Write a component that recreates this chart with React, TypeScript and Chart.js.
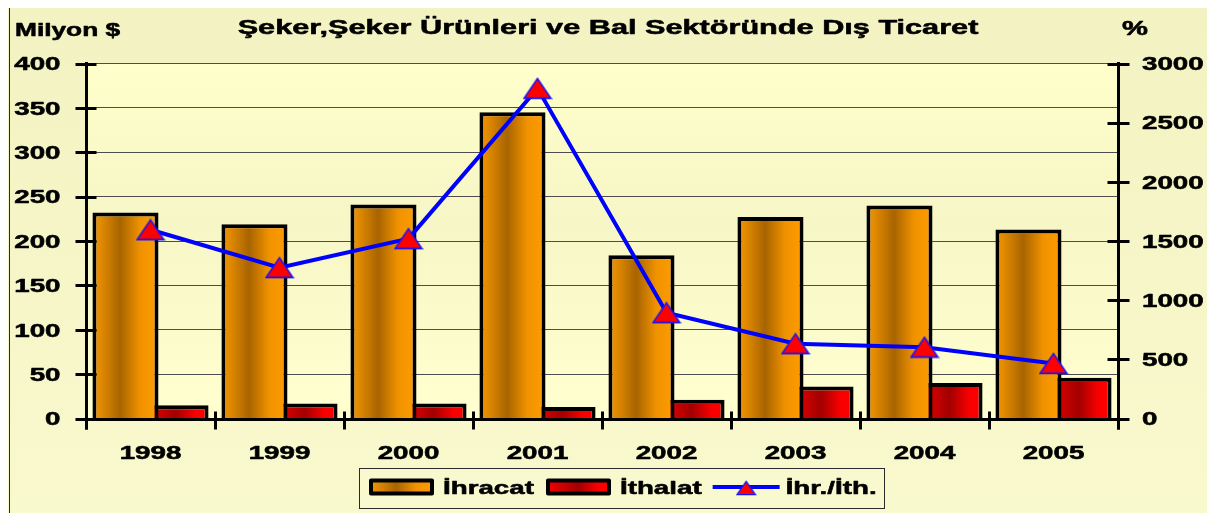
import { useEffect, useRef } from 'react';
import { Chart, registerables } from 'chart.js';

Chart.register(...registerables);

// ---------- data ----------
const YEARS = ['1998', '1999', '2000', '2001', '2002', '2003', '2004', '2005'];
const IHRACAT = [232, 219, 241, 345, 184, 227, 240, 213];
const ITHALAT = [15, 17, 17, 13, 21, 36, 40, 46];
const ORAN = [1595, 1275, 1520, 2790, 894, 632, 603, 465];
const SERIES_LABELS = ['İhracat', 'İthalat', 'İhr./İth.'];
const LEFT_MAX = 400;
const LEFT_STEP = 50;
const RIGHT_MAX = 3000;
const RIGHT_STEP = 500;
const TITLE = 'Şeker,Şeker Ürünleri ve Bal Sektöründe Dış Ticaret';
const LEFT_UNIT = 'Milyon $';
const RIGHT_UNIT = '%';

// ---------- style ----------
const FONT = '"Liberation Sans", Arial, Helvetica, sans-serif';
const SX = 1.46; // horizontal text stretch seen in the reference
const CAT_PCT = 0.776;
const BAR_PCT = 1.32;

type Stop = [number, string];
const ORANGE_STOPS: Stop[] = [
  [0, '#F39400'],
  [0.12, '#E38B00'],
  [0.42, '#A86400'],
  [0.72, '#F09200'],
  [1, '#FF9C00'],
];
const RED_STOPS: Stop[] = [
  [0, '#F20000'],
  [0.15, '#DF0000'],
  [0.5, '#A20000'],
  [0.8, '#F80000'],
  [1, '#FF0000'],
];

function stretchedText(
  ctx: CanvasRenderingContext2D,
  text: string,
  x: number,
  y: number,
  size: number,
  align: CanvasTextAlign
) {
  ctx.save();
  ctx.font = `bold ${size}px ${FONT}`;
  ctx.textAlign = align;
  ctx.textBaseline = 'alphabetic';
  ctx.fillStyle = '#000';
  ctx.strokeStyle = '#000';
  ctx.lineWidth = 0.55;
  ctx.lineJoin = 'round';
  ctx.translate(x, y);
  ctx.scale(SX, 1);
  ctx.fillText(text, 0, 0);
  ctx.strokeText(text, 0, 0);
  ctx.restore();
}

function textWidth(ctx: CanvasRenderingContext2D, text: string, size: number) {
  ctx.save();
  ctx.font = `bold ${size}px ${FONT}`;
  const w = ctx.measureText(text).width * SX;
  ctx.restore();
  return w;
}

function makeTriangle(w: number, h: number, lw: number) {
  const c = document.createElement('canvas');
  c.width = w;
  c.height = h;
  const g = c.getContext('2d')!;
  g.beginPath();
  g.moveTo(w / 2, lw);
  g.lineTo(w - lw, h - lw);
  g.lineTo(lw, h - lw);
  g.closePath();
  g.fillStyle = '#FF0000';
  g.fill();
  g.lineWidth = lw;
  g.strokeStyle = '#1414FF';
  g.stroke();
  return c;
}

function gradientBetween(ctx: CanvasRenderingContext2D, x0: number, x1: number, stops: Stop[]) {
  const g = ctx.createLinearGradient(x0, 0, x1, 0);
  stops.forEach(([o, col]) => g.addColorStop(o, col));
  return g;
}

function barGradient(stops: Stop[], side: number) {
  return (c: any) => {
    const chart = c.chart;
    const xs = chart && chart.scales ? chart.scales.x : null;
    const fallback = stops[2][1];
    if (!xs || typeof c.dataIndex !== 'number') return fallback;
    const cw = xs.width / YEARS.length;
    const center = xs.getPixelForValue(c.dataIndex) + (side * cw * CAT_PCT) / 4;
    const half = ((cw * CAT_PCT) / 4) * BAR_PCT;
    if (!isFinite(center) || !isFinite(half) || half <= 0) return fallback;
    return gradientBetween(chart.ctx, center - half, center + half, stops);
  };
}

function makeDecor(smallTri: HTMLCanvasElement) {
  return {
    id: 'decor',
    beforeDraw(chart: any) {
      const { ctx, width, height, chartArea: a } = chart;
      if (!a) return;
      ctx.save();
      const bg = ctx.createLinearGradient(0, 0, 0, height);
      bg.addColorStop(0, '#F2F2C2');
      bg.addColorStop(1, '#F9F9CE');
      ctx.fillStyle = bg;
      ctx.fillRect(0, 0, width, height);
      const pg = ctx.createLinearGradient(0, a.top, 0, a.bottom);
      pg.addColorStop(0, '#FFFFCB');
      pg.addColorStop(0.45, '#F6F6C6');
      pg.addColorStop(1, '#FFFFD0');
      ctx.fillStyle = pg;
      ctx.fillRect(a.left, a.top, a.right - a.left, a.bottom - a.top);
      ctx.strokeStyle = '#2a2a2a';
      ctx.lineWidth = 1;
      ctx.strokeRect(1.5, 0.5, width - 2, height + 10);
      ctx.restore();
    },
    afterDraw(chart: any) {
      const { ctx, chartArea: a } = chart;
      const xs = chart.scales.x;
      const ys = chart.scales.y;
      const y2 = chart.scales.y2;
      ctx.save();
      ctx.strokeStyle = '#000';
      ctx.lineWidth = 3;
      ctx.lineCap = 'butt';
      const seg = (x0: number, y0: number, x1: number, y1: number) => {
        ctx.beginPath();
        ctx.moveTo(x0, y0);
        ctx.lineTo(x1, y1);
        ctx.stroke();
      };
      const lx = Math.round(a.left) + 0.5;
      const rx = Math.round(a.right) + 0.5;
      const by = Math.round(a.bottom) + 0.5;
      // axes
      seg(lx, a.top - 1.5, lx, by + 10);
      seg(rx, a.top - 1.5, rx, by + 10);
      seg(lx, by, rx, by);
      // left ticks + labels
      ys.ticks.forEach((t: any) => {
        const py = ys.getPixelForValue(t.value);
        seg(lx - 11, Math.round(py) + 0.5, lx + 10, Math.round(py) + 0.5);
        stretchedText(ctx, String(t.value), a.left - 25.5, py + 6.8, 19, 'right');
      });
      // right ticks + labels
      y2.ticks.forEach((t: any) => {
        const py = y2.getPixelForValue(t.value);
        seg(rx - 11, Math.round(py) + 0.5, rx + 11, Math.round(py) + 0.5);
        stretchedText(ctx, String(t.value), a.right + 24, py + 6.8, 19, 'left');
      });
      // x boundary ticks + labels
      for (let i = 0; i <= YEARS.length; i++) {
        const px = Math.round(xs.getPixelForValue(i - 0.5)) + 0.5;
        seg(px, by - 8, px, by + 10);
      }
      YEARS.forEach((lab, i) => {
        stretchedText(ctx, lab, xs.getPixelForValue(i), 452, 19, 'center');
      });
      // titles
      stretchedText(ctx, TITLE, 600, 27, 21, 'center');
      stretchedText(ctx, LEFT_UNIT, 7, 29, 18, 'left');
      stretchedText(ctx, RIGHT_UNIT, 1127, 28, 20, 'center');

      // legend
      const ds = chart.data.datasets;
      const barOrange = ds.find((d: any) => d.label === SERIES_LABELS[0]);
      const barRed = ds.find((d: any) => d.label === SERIES_LABELS[1]);
      const lineDs = ds.find((d: any) => d.label === SERIES_LABELS[2]);
      const fs = 19;
      const boxTop = 461.5;
      const boxBottom = 501.5;
      const x0 = 361;
      const swW = 65;
      const swTop = 471.5;
      const swH = 17;
      const textY = 487;
      const wA = textWidth(ctx, barOrange.label, fs);
      const wB = textWidth(ctx, barRed.label, fs);
      const wC = textWidth(ctx, lineDs.label, fs);
      const t1 = x0 + swW + 9;
      const s2 = t1 + wA + 12;
      const t2 = s2 + swW + 9;
      const l3 = t2 + wB + 11;
      const t3 = l3 + 67 + 6;
      const boxLeft = x0 - 10 + 0.5;
      const boxRight = Math.round(t3 + wC + 7.5) + 0.5;
      ctx.fillStyle = '#F9F9D0';
      ctx.fillRect(boxLeft, boxTop, boxRight - boxLeft, boxBottom - boxTop);
      ctx.lineWidth = 1;
      ctx.strokeStyle = '#2a2a2a';
      ctx.strokeRect(boxLeft, boxTop, boxRight - boxLeft, boxBottom - boxTop);

      const swatch = (sx: number, stops: Stop[]) => {
        ctx.fillStyle = gradientBetween(ctx, sx, sx + swW, stops);
        ctx.lineWidth = 4;
        ctx.strokeStyle = '#000';
        ctx.lineJoin = 'round';
        ctx.beginPath();
        ctx.rect(sx + 2, swTop + 2, swW - 4, swH - 4);
        ctx.fill();
        ctx.stroke();
      };
      swatch(Math.round(x0), ORANGE_STOPS);
      stretchedText(ctx, barOrange.label, t1, textY, fs, 'left');
      swatch(Math.round(s2), RED_STOPS);
      stretchedText(ctx, barRed.label, t2, textY, fs, 'left');
      ctx.strokeStyle = lineDs.borderColor;
      ctx.lineWidth = 4;
      seg(l3, 480, l3 + 67, 480);
      ctx.drawImage(smallTri, l3 + 33.5 - smallTri.width / 2, 481 - smallTri.height / 2);
      stretchedText(ctx, lineDs.label, t3, textY, fs, 'left');
      ctx.restore();
    },
  };
}

export default function App() {
  const ref = useRef<HTMLCanvasElement>(null);

  useEffect(() => {
    const canvas = ref.current;
    if (!canvas) return;
    const tri = makeTriangle(30, 23, 1.6);
    const smallTri = makeTriangle(21, 16, 1.3);
    const chart = new Chart(canvas, {
      type: 'bar',
      data: {
        labels: YEARS,
        datasets: [
          {
            type: 'line',
            label: SERIES_LABELS[2],
            data: ORAN,
            yAxisID: 'y2',
            order: 0,
            borderColor: '#0000FF',
            borderWidth: 4,
            pointStyle: tri as any,
            pointRadius: 10,
            pointBackgroundColor: '#FF0000',
            tension: 0,
            fill: false,
          } as any,
          {
            type: 'bar',
            label: SERIES_LABELS[0],
            data: IHRACAT,
            yAxisID: 'y',
            order: 1,
            backgroundColor: barGradient(ORANGE_STOPS, -1),
            borderColor: '#000000',
            borderWidth: 4,
            categoryPercentage: CAT_PCT,
            barPercentage: BAR_PCT,
          } as any,
          {
            type: 'bar',
            label: SERIES_LABELS[1],
            data: ITHALAT,
            yAxisID: 'y',
            order: 2,
            backgroundColor: barGradient(RED_STOPS, 1),
            borderColor: '#000000',
            borderWidth: 4,
            categoryPercentage: CAT_PCT,
            barPercentage: BAR_PCT,
          } as any,
        ],
      },
      options: {
        responsive: false,
        animation: false,
        events: [],
        layout: { padding: { top: 56.5, left: 0, right: 0, bottom: 0 } },
        plugins: {
          legend: { display: false },
          title: { display: false },
          tooltip: { enabled: false },
        },
        scales: {
          x: {
            type: 'category',
            offset: true,
            grid: { display: false },
            border: { display: false },
            ticks: { display: false },
            afterFit: (s: any) => {
              s.height = 94.5;
            },
          },
          y: {
            type: 'linear',
            position: 'left',
            min: 0,
            max: LEFT_MAX,
            ticks: { display: false, stepSize: LEFT_STEP },
            grid: { color: '#4d4d4d', lineWidth: 1, drawTicks: false },
            border: { display: false },
            afterFit: (s: any) => {
              s.width = 78;
            },
          },
          y2: {
            type: 'linear',
            position: 'right',
            min: 0,
            max: RIGHT_MAX,
            ticks: { display: false, stepSize: RIGHT_STEP },
            grid: { display: false },
            border: { display: false },
            afterFit: (s: any) => {
              s.width = 90;
            },
          },
        },
      } as any,
      plugins: [makeDecor(smallTri)],
    });
    return () => chart.destroy();
  }, []);

  return (
    <div style={{ marginTop: -1 }}>
      <canvas
        ref={ref}
        width={1200}
        height={506}
        style={{ display: 'block', width: 1200, height: 506 }}
      />
    </div>
  );
}
